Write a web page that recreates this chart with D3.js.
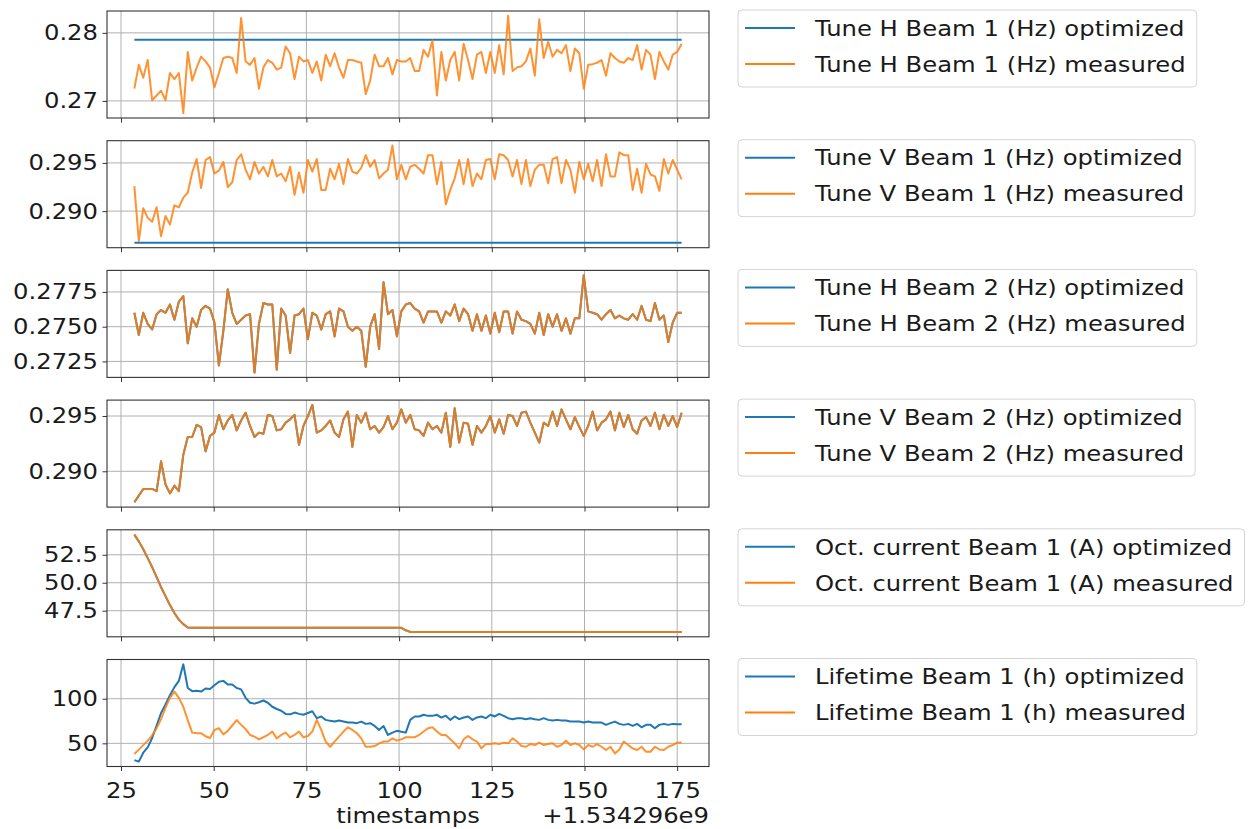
<!DOCTYPE html>
<html>
<head>
<meta charset="utf-8">
<script src="https://cdn.jsdelivr.net/npm/d3@7"></script>
<style>
  body { margin: 0; background: #fff; }
</style>
</head>
<body>
<div id="chart"></div>
<script>
// Time axis (seconds, offset +1.534296e9)
const timestamps = [
  28.6, 29.8, 31.0, 32.2, 33.4, 34.6, 35.8, 37.0, 38.2, 39.4,
  40.6, 41.8, 43.0, 44.2, 45.4, 46.6, 47.8, 49.0, 50.2, 51.4,
  52.6, 53.8, 55.0, 56.2, 57.4, 58.6, 59.8, 61.0, 62.2, 63.4,
  64.6, 65.8, 67.0, 68.2, 69.4, 70.6, 71.8, 73.0, 74.2, 75.4,
  76.6, 77.8, 79.0, 80.2, 81.4, 82.6, 83.8, 85.0, 86.2, 87.4,
  88.6, 89.8, 91.0, 92.2, 93.4, 94.6, 95.8, 97.0, 98.2, 99.4,
  100.6, 101.8, 103.0, 104.2, 105.4, 106.6, 107.8, 109.0, 110.2, 111.4,
  112.6, 113.8, 115.0, 116.2, 117.4, 118.6, 119.8, 121.0, 122.2, 123.4,
  124.6, 125.8, 127.0, 128.2, 129.4, 130.6, 131.8, 133.0, 134.2, 135.4,
  136.6, 137.8, 139.0, 140.2, 141.4, 142.6, 143.8, 145.0, 146.2, 147.4,
  148.6, 149.8, 151.0, 152.2, 153.4, 154.6, 155.8, 157.0, 158.2, 159.4,
  160.6, 161.8, 163.0, 164.2, 165.4, 166.6, 167.8, 169.0, 170.2, 171.4,
  172.6, 173.8, 175.0, 176.2
];
const xTicks = [25, 50, 75, 100, 125, 150, 175];

// Tune H Beam 1
const tuneHB1Optimized = 0.2790;
const tuneHB1Measured = [
  0.2718, 0.2753, 0.2734, 0.2760, 0.2701, 0.2708, 0.2715, 0.2701, 0.2741, 0.2732,
  0.2741, 0.2682, 0.2772, 0.2730, 0.2749, 0.2765, 0.2758, 0.2749, 0.2720, 0.2741,
  0.2763, 0.2765, 0.2763, 0.2741, 0.2822, 0.2758, 0.2753, 0.2763, 0.2718, 0.2749,
  0.2760, 0.2756, 0.2746, 0.2749, 0.2780, 0.2770, 0.2732, 0.2765, 0.2758, 0.2760,
  0.2741, 0.2758, 0.2730, 0.2768, 0.2751, 0.2770, 0.2749, 0.2734, 0.2760, 0.2760,
  0.2758, 0.2756, 0.2710, 0.2730, 0.2768, 0.2751, 0.2751, 0.2763, 0.2739, 0.2760,
  0.2758, 0.2758, 0.2763, 0.2744, 0.2744, 0.2775, 0.2765, 0.2789, 0.2708, 0.2772,
  0.2730, 0.2760, 0.2772, 0.2730, 0.2784, 0.2760, 0.2732, 0.2768, 0.2772, 0.2741,
  0.2772, 0.2741, 0.2782, 0.2739, 0.2825, 0.2744, 0.2749, 0.2751, 0.2758, 0.2777,
  0.2737, 0.2820, 0.2763, 0.2787, 0.2765, 0.2775, 0.2770, 0.2782, 0.2744, 0.2777,
  0.2770, 0.2718, 0.2753, 0.2754, 0.2756, 0.2760, 0.2737, 0.2770, 0.2763, 0.2758,
  0.2756, 0.2763, 0.2760, 0.2782, 0.2746, 0.2775, 0.2768, 0.2732, 0.2772, 0.2758,
  0.2746, 0.2768, 0.2772, 0.2784
];
const tuneHB1Ticks = [0.27, 0.28];

// Tune V Beam 1
const tuneVB1Optimized = 0.28671;
const tuneVB1Measured = [
  0.2926, 0.2869, 0.2903, 0.2893, 0.2889, 0.2904, 0.2874, 0.2895, 0.2886, 0.2906,
  0.2904, 0.2914, 0.2919, 0.2940, 0.2954, 0.2924, 0.2953, 0.2956, 0.2939, 0.2942,
  0.2951, 0.2925, 0.2930, 0.2953, 0.2959, 0.2943, 0.2933, 0.2951, 0.2939, 0.2946,
  0.2936, 0.2953, 0.2936, 0.2939, 0.2931, 0.2946, 0.2917, 0.2940, 0.2919, 0.2953,
  0.2941, 0.2954, 0.2922, 0.2922, 0.2944, 0.2933, 0.2949, 0.2928, 0.2954, 0.2941,
  0.2939, 0.2945, 0.2958, 0.2946, 0.2953, 0.2934, 0.2939, 0.2943, 0.2968, 0.2933,
  0.2948, 0.2933, 0.2946, 0.2948, 0.2944, 0.2939, 0.2958, 0.2958, 0.2928, 0.2951,
  0.2907, 0.2922, 0.2934, 0.2953, 0.2928, 0.2954, 0.2926, 0.2939, 0.2933, 0.2953,
  0.2954, 0.2933, 0.2959, 0.2958, 0.2953, 0.2936, 0.2953, 0.2928, 0.2953, 0.2926,
  0.2943, 0.2948, 0.2948, 0.2929, 0.2954, 0.2956, 0.2929, 0.2953, 0.2943, 0.2919,
  0.2951, 0.2933, 0.2949, 0.2931, 0.2953, 0.2926, 0.2959, 0.2936, 0.2936, 0.2961,
  0.2958, 0.2958, 0.2922, 0.2944, 0.2919, 0.2949, 0.2938, 0.2936, 0.2921, 0.2954,
  0.2939, 0.2953, 0.2943, 0.2933
];
const tuneVB1Ticks = [0.290, 0.295];

// Tune H Beam 2 (optimized and measured coincide)
const tuneHB2Measured = [
  0.2760, 0.2744, 0.2760, 0.2752, 0.2748, 0.2759, 0.2762, 0.2760, 0.2766, 0.2755,
  0.2768, 0.2772, 0.2738, 0.2756, 0.2750, 0.2762, 0.2765, 0.2763, 0.2753, 0.2722,
  0.2747, 0.2777, 0.2760, 0.2752, 0.2755, 0.2758, 0.2759, 0.2717, 0.2752, 0.2767,
  0.2766, 0.2766, 0.2719, 0.2763, 0.2758, 0.2731, 0.2758, 0.2759, 0.2763, 0.2741,
  0.2760, 0.2758, 0.2748, 0.2759, 0.2761, 0.2743, 0.2763, 0.2761, 0.2750, 0.2747,
  0.2750, 0.2747, 0.2721, 0.2750, 0.2759, 0.2734, 0.2782, 0.2759, 0.2762, 0.2743,
  0.2761, 0.2766, 0.2767, 0.2763, 0.2761, 0.2753, 0.2761, 0.2761, 0.2761, 0.2753,
  0.2761, 0.2758, 0.2766, 0.2754, 0.2763, 0.2759, 0.2747, 0.2759, 0.2747, 0.2758,
  0.2745, 0.2760, 0.2746, 0.2761, 0.2761, 0.2745, 0.2761, 0.2755, 0.2754, 0.2752,
  0.2745, 0.2760, 0.2744, 0.2759, 0.2750, 0.2759, 0.2747, 0.2756, 0.2745, 0.2756,
  0.2756, 0.2787, 0.2761, 0.2760, 0.2759, 0.2755, 0.2759, 0.2762, 0.2756, 0.2758,
  0.2756, 0.2755, 0.2759, 0.2755, 0.2765, 0.2755, 0.2754, 0.2767, 0.2755, 0.2758,
  0.2739, 0.2753, 0.2760, 0.2760
];
const tuneHB2Optimized = tuneHB2Measured.slice();
const tuneHB2Ticks = [0.2725, 0.2750, 0.2775];

// Tune V Beam 2 (optimized and measured coincide)
const tuneVB2Measured = [
  0.2872, 0.2878, 0.2884, 0.2884, 0.2884, 0.2882, 0.2909, 0.2888, 0.2880, 0.2887,
  0.2882, 0.2915, 0.2931, 0.2931, 0.2942, 0.2940, 0.2918, 0.2932, 0.2935, 0.2951,
  0.2938, 0.2946, 0.2951, 0.2937, 0.2946, 0.2953, 0.2941, 0.2931, 0.2935, 0.2934,
  0.2951, 0.2950, 0.2937, 0.2938, 0.2944, 0.2947, 0.2951, 0.2924, 0.2941, 0.2950,
  0.2960, 0.2935, 0.2937, 0.2941, 0.2946, 0.2935, 0.2931, 0.2947, 0.2954, 0.2922,
  0.2951, 0.2944, 0.2953, 0.2938, 0.2941, 0.2935, 0.2940, 0.2950, 0.2938, 0.2944,
  0.2956, 0.2944, 0.2951, 0.2938, 0.2937, 0.2932, 0.2944, 0.2938, 0.2941, 0.2935,
  0.2953, 0.2922, 0.2957, 0.2926, 0.2944, 0.2943, 0.2924, 0.2941, 0.2935, 0.2941,
  0.2950, 0.2935, 0.2947, 0.2934, 0.2951, 0.2950, 0.2941, 0.2953, 0.2954, 0.2944,
  0.2935, 0.2926, 0.2944, 0.2941, 0.2954, 0.2941, 0.2956, 0.2947, 0.2938, 0.2949,
  0.2940, 0.2932, 0.2941, 0.2954, 0.2937, 0.2944, 0.2947, 0.2954, 0.2937, 0.2953,
  0.2940, 0.2951, 0.2938, 0.2934, 0.2946, 0.2949, 0.2941, 0.2953, 0.2938, 0.2951,
  0.2941, 0.2950, 0.2940, 0.2953
];
const tuneVB2Optimized = tuneVB2Measured.slice();
const tuneVB2Ticks = [0.290, 0.295];

// Octupole current Beam 1 (optimized and measured coincide)
const octB1Measured = [
  54.3, 53.7, 53.0, 52.2, 51.4, 50.5, 49.6, 48.8, 48.0, 47.3,
  46.7, 46.3, 46.0, 45.97, 45.97, 45.97, 45.97, 45.97, 45.97, 45.97,
  45.97, 45.97, 45.97, 45.97, 45.97, 45.97, 45.97, 45.97, 45.97, 45.97,
  45.97, 45.97, 45.97, 45.97, 45.97, 45.97, 45.97, 45.97, 45.97, 45.97,
  45.97, 45.97, 45.97, 45.97, 45.97, 45.97, 45.97, 45.97, 45.97, 45.97,
  45.97, 45.97, 45.97, 45.97, 45.97, 45.97, 45.97, 45.97, 45.97, 45.97,
  45.97, 45.75, 45.6, 45.6, 45.6, 45.6, 45.6, 45.6, 45.6, 45.6,
  45.6, 45.6, 45.6, 45.6, 45.6, 45.6, 45.6, 45.6, 45.6, 45.6,
  45.6, 45.6, 45.6, 45.6, 45.6, 45.6, 45.6, 45.6, 45.6, 45.6,
  45.6, 45.6, 45.6, 45.6, 45.6, 45.6, 45.6, 45.6, 45.6, 45.6,
  45.6, 45.6, 45.6, 45.6, 45.6, 45.6, 45.6, 45.6, 45.6, 45.6,
  45.6, 45.6, 45.6, 45.6, 45.6, 45.6, 45.6, 45.6, 45.6, 45.6,
  45.6, 45.6, 45.6, 45.6
];
const octB1Optimized = octB1Measured.slice();
const octB1Ticks = [47.5, 50.0, 52.5];

// Lifetime Beam 1
const lifeB1Optimized = [
  31.2, 29.5, 39.5, 45.5, 56, 70, 84, 93.5, 104, 113,
  120, 138.5, 112, 108.5, 109, 108, 111.5, 111, 115, 119,
  120, 116, 116, 112, 110.5, 101, 95.5, 94.5, 96, 98,
  95.5, 91, 88.5, 86.5, 83, 82.5, 84.5, 83, 82, 84,
  86, 78.2, 80.1, 76.3, 75.2, 74.4, 75.6, 74.4, 73.3, 73.3,
  72.6, 74.4, 71.8, 72.6, 69.5, 65, 69.5, 59.4, 62, 64,
  63, 62, 76.3, 80.1, 80.1, 82, 80.8, 80.8, 82, 78.9,
  81, 76.3, 80.1, 77.1, 79, 80.1, 76.3, 79, 80.1, 78.2,
  82, 80.1, 83.1, 80.8, 78.2, 77.1, 78.2, 78.2, 77.1, 78.2,
  77.1, 76.3, 78.2, 76.3, 75.6, 76.3, 75.6, 75.6, 74.4, 74.4,
  74.4, 73.3, 74.4, 73.3, 73.3, 73.3, 70.7, 72.6, 74.4, 71.8,
  70.7, 71.8, 69.5, 71.8, 68, 70.7, 70.7, 66.9, 70.7, 71.8,
  70.7, 71.8, 71.4, 71.4
];
const lifeB1Measured = [
  38, 43, 48, 53, 59, 67, 77, 90, 101, 108,
  101, 91, 76, 62, 61.3, 61.3, 58, 56, 65, 67,
  60, 64, 70, 76, 70.7, 66, 59.4, 57.5, 54.5, 56.8,
  59.4, 63.2, 55.6, 59.4, 62, 56.8, 59.4, 63.2, 56.8, 58.3,
  63.2, 76.3, 65, 52, 46.2, 52, 57.5, 63.2, 68, 65,
  61.3, 55.6, 46.2, 46.2, 47, 50, 52, 52, 55.6, 53,
  54.5, 56.8, 56.8, 56.8, 59.4, 63.2, 66.9, 68, 63.2, 59.4,
  59.4, 54.5, 50, 44.4, 54.5, 58.3, 54.5, 52, 44.4, 49.2,
  49.2, 50, 49.2, 50.8, 50, 55.6, 52, 47, 46.2, 49.2,
  48.1, 50.8, 48.1, 49.2, 50, 46.2, 48.1, 53, 48.1, 50,
  48.1, 43.2, 48.1, 46.2, 49.2, 46.2, 42.5, 46.2, 38.7, 43.2,
  52, 48.1, 44.4, 42.5, 46.2, 40.6, 40.6, 46.2, 43.2, 42.5,
  46.2, 48.1, 50.8, 51
];
const lifeB1Ticks = [50, 100];

const panels = [
  {label: "Tune H Beam 1 (Hz)", optimized: tuneHB1Optimized, measured: tuneHB1Measured, ticks: tuneHB1Ticks, fmt: ".2f"},
  {label: "Tune V Beam 1 (Hz)", optimized: tuneVB1Optimized, measured: tuneVB1Measured, ticks: tuneVB1Ticks, fmt: ".3f"},
  {label: "Tune H Beam 2 (Hz)", optimized: tuneHB2Optimized, measured: tuneHB2Measured, ticks: tuneHB2Ticks, fmt: ".4f"},
  {label: "Tune V Beam 2 (Hz)", optimized: tuneVB2Optimized, measured: tuneVB2Measured, ticks: tuneVB2Ticks, fmt: ".3f"},
  {label: "Oct. current Beam 1 (A)", optimized: octB1Optimized, measured: octB1Measured, ticks: octB1Ticks, fmt: ".1f"},
  {label: "Lifetime Beam 1 (h)", optimized: lifeB1Optimized, measured: lifeB1Measured, ticks: lifeB1Ticks, fmt: "d"}
];

// Layout
const W = 1254, H = 829;
const axLeft = 107, axRight = 709, axH = 107, axTop0 = 11, axStep = 129.7;
const fs = 21.5, sx = 1.13;
const font = "'DejaVu Sans', sans-serif";
const textColor = "#1a1a1a";
const blue = "#1f77b4", orange = "#ff7f0e";

const svg = d3.select("#chart")
  .append("svg")
    .attr("width", W)
    .attr("height", H)
    .style("font-family", font);

// matplotlib style 5% margins
function pad([a, b]) {
  const p = (b - a) * 0.05;
  return [a - p, b + p];
}

const x = d3.scaleLinear()
  .domain(pad(d3.extent(timestamps)))
  .range([axLeft, axRight]);

// optimized may be a single constant value
function seriesPoints(s) {
  if (Array.isArray(s)) return timestamps.map((t, i) => [t, s[i]]);
  return [[timestamps[0], s], [timestamps[timestamps.length - 1], s]];
}

function stretchedText(g, tx, ty, str, anchor) {
  return g.append("text")
    .attr("transform", `translate(${tx},${ty}) scale(${sx},1)`)
    .attr("text-anchor", anchor)
    .attr("font-size", fs)
    .attr("fill", textColor)
    .text(str);
}

panels.forEach((p, k) => {
  const top = axTop0 + k * axStep;
  const bottom = top + axH;
  const opt = seriesPoints(p.optimized);
  const meas = seriesPoints(p.measured);
  const allVals = opt.concat(meas).map(d => d[1]);

  const y = d3.scaleLinear()
    .domain(pad(d3.extent(allVals)))
    .range([bottom, top]);

  const g = svg.append("g");

  // grid
  g.append("g").selectAll("line")
    .data(xTicks)
    .join("line")
      .attr("x1", d => x(d)).attr("x2", d => x(d))
      .attr("y1", top).attr("y2", bottom)
      .attr("stroke", "#b0b0b0").attr("stroke-width", 1);
  g.append("g").selectAll("line")
    .data(p.ticks)
    .join("line")
      .attr("x1", axLeft).attr("x2", axRight)
      .attr("y1", d => y(d)).attr("y2", d => y(d))
      .attr("stroke", "#b0b0b0").attr("stroke-width", 1);

  // lines
  const line = d3.line().x(d => x(d[0])).y(d => y(d[1]));
  g.append("path")
    .attr("d", line(opt))
    .attr("fill", "none")
    .attr("stroke", blue)
    .attr("stroke-width", 2)
    .attr("stroke-linejoin", "round");
  g.append("path")
    .attr("d", line(meas))
    .attr("fill", "none")
    .attr("stroke", orange)
    .attr("stroke-opacity", 0.85)
    .attr("stroke-width", 2)
    .attr("stroke-linejoin", "round");

  // frame
  g.append("rect")
    .attr("x", axLeft).attr("y", top)
    .attr("width", axRight - axLeft).attr("height", axH)
    .attr("fill", "none")
    .attr("stroke", "#333").attr("stroke-width", 1.1);

  // y axis
  const ya = g.append("g")
    .attr("transform", `translate(${axLeft},0)`)
    .call(d3.axisLeft(y).tickValues(p.ticks).tickFormat(d3.format(p.fmt)).tickSize(4.5).tickPadding(4.5));
  ya.select(".domain").remove();
  ya.selectAll("line").attr("stroke", "#333");
  ya.selectAll("text")
    .attr("font-size", fs)
    .attr("font-family", font)
    .attr("fill", textColor)
    .attr("transform", `scale(${sx},1)`)
    .attr("x", -9 / sx);

  // x axis
  const last = k === panels.length - 1;
  const xa = g.append("g")
    .attr("transform", `translate(0,${bottom})`)
    .call(d3.axisBottom(x).tickValues(xTicks).tickSize(4.5).tickPadding(12)
      .tickFormat(last ? d3.format("d") : () => ""));
  xa.select(".domain").remove();
  xa.selectAll("line").attr("stroke", "#333");
  xa.selectAll("text")
    .attr("font-size", fs)
    .attr("font-family", font)
    .attr("fill", textColor)
    .attr("transform", `scale(${sx},1)`);

  // legend
  const lg = svg.append("g");
  const legTop = top - 1;
  const rows = [
    {name: p.label + " optimized", color: blue},
    {name: p.label + " measured", color: orange}
  ];
  const box = lg.append("rect")
    .attr("x", 738).attr("y", legTop)
    .attr("height", 77)
    .attr("rx", 4).attr("ry", 4)
    .attr("fill", "#fff")
    .attr("stroke", "#d4d4d4").attr("stroke-width", 1);
  let maxW = 0;
  rows.forEach((r, i) => {
    const cy = legTop + 18 + i * 36;
    lg.append("line")
      .attr("x1", 745).attr("x2", 795)
      .attr("y1", cy).attr("y2", cy)
      .attr("stroke", r.color).attr("stroke-width", 2);
    const t = stretchedText(lg, 815, cy, r.name, "start")
      .attr("dy", "0.36em");
    maxW = Math.max(maxW, t.node().getComputedTextLength() * sx);
  });
  box.attr("width", 815 + maxW + 11 - 738);
});

// axis label and offset
const lastBottom = axTop0 + (panels.length - 1) * axStep + axH;
stretchedText(svg, (axLeft + axRight) / 2, lastBottom + 56, "timestamps", "middle");
stretchedText(svg, axRight, lastBottom + 56, "+1.534296e9", "end");
</script>
</body>
</html>
